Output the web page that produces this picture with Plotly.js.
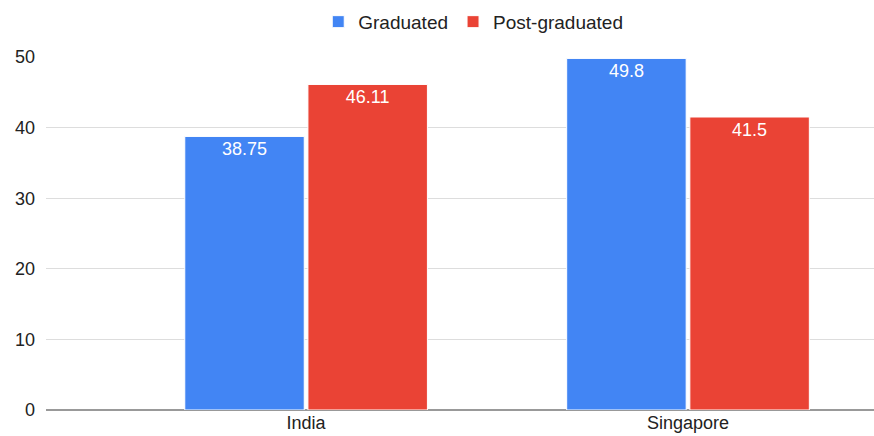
<!DOCTYPE html>
<html>
<head>
<meta charset="utf-8">
<script src="https://cdn.plot.ly/plotly-3.0.1.min.js"></script>
<style>html,body{margin:0;padding:0;background:#fff;}#chart{width:874px;height:436px;}</style>
</head>
<body>
<div id="chart"></div>
<script>
const categories = ["India", "Singapore"];
const graduated = [38.75, 49.8];
const postGraduated = [46.11, 41.5];
const seriesNames = ["Graduated", "Post-graduated"];
const yTicks = [0, 10, 20, 30, 40, 50];

const font = {family: "Liberation Sans, Arial, sans-serif", size: 18, color: "#222"};

function barTrace(name, values, color) {
  return {
    type: "bar",
    name: name,
    x: categories,
    y: values,
    text: values.map(String),
    textposition: "inside",
    insidetextanchor: "end",
    textangle: 0,
    textfont: {family: font.family, size: 18, color: "#ffffff"},
    marker: {color: color, line: {color: "#ffffff", width: 1}},
    hoverinfo: "none"
  };
}

const data = [
  barTrace(seriesNames[0], graduated, "#4285F4"),
  barTrace(seriesNames[1], postGraduated, "#EA4335")
];

const layout = {
  width: 874,
  height: 436,
  margin: {l: 46, r: 0, t: 57, b: 26},
  paper_bgcolor: "#ffffff",
  plot_bgcolor: "#ffffff",
  font: font,
  barmode: "group",
  bargap: 0.355,
  bargroupgap: 0.03,
  showlegend: true,
  legend: {
    orientation: "h",
    xref: "paper",
    x: 0.516, xanchor: "center",
    yref: "container",
    y: 0.95, yanchor: "middle",
    font: {family: font.family, size: 19, color: "#222"},
    itemwidth: 30,
    traceorder: "normal"
  },
  xaxis: {
    type: "category",
    range: [-0.681, 1.487],
    showgrid: false,
    zeroline: false,
    showline: false,
    ticks: "",
    tickfont: {family: font.family, size: 18, color: "#222"},
    fixedrange: true
  },
  yaxis: {
    range: [0, 50],
    tickvals: yTicks,
    ticktext: yTicks.map(String),
    showgrid: true,
    gridcolor: "#dddddd",
    gridwidth: 1,
    zeroline: true,
    zerolinecolor: "#999999",
    zerolinewidth: 1.5,
    showline: false,
    ticks: "",
    ticklabelstandoff: 10,
    tickfont: {family: font.family, size: 18, color: "#222"},
    fixedrange: true
  }
};

Plotly.newPlot("chart", data, layout, {displayModeBar: false, staticPlot: true});
</script>
</body>
</html>
